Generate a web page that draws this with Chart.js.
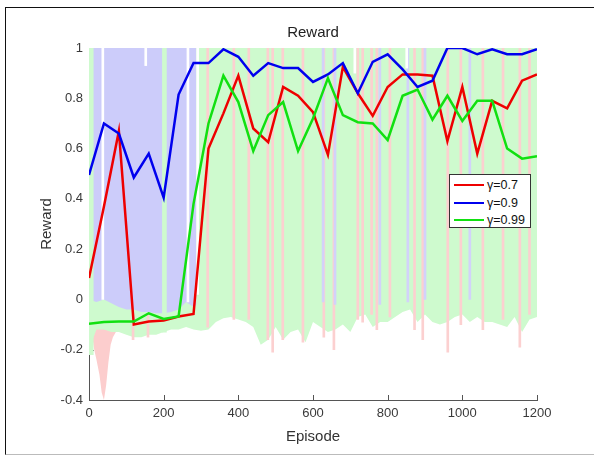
<!DOCTYPE html>
<html>
<head>
<meta charset="utf-8">
<script src="https://cdn.jsdelivr.net/npm/chart.js@4"></script>
<style>
  html, body { margin: 0; padding: 0; background: #fff; }
  #wrap { position: relative; width: 594px; height: 456px; overflow: hidden; font-family: 'Liberation Sans', Arial, Helvetica, sans-serif; }
  #frame { position: absolute; left: 5px; top: 7px; width: 589px; height: 446px; border-left: 1px solid #111; border-top: 1px solid #111; border-bottom: 1px solid #bbb; }
  #box { position: absolute; left: 0; top: 0; width: 594px; height: 456px; }
  #legend { position: absolute; left: 449px; top: 174px; width: 80px; height: 52px; background: #fff; border: 1px solid #333; }
  .row { position: absolute; left: 0; height: 16px; width: 80px; }
  .row i { position: absolute; left: 4px; top: 7px; width: 30px; height: 0; border-top: 2.5px solid; }
  .row span { position: absolute; left: 37px; top: 0; font-size: 12.5px; line-height: 16px; color: #111; white-space: nowrap; }
</style>
</head>
<body>
<div id="wrap">
  <div id="frame"></div>
  <div id="box"><canvas id="chart"></canvas></div>
  <div id="legend"></div>
</div>
<script>
// smoothed reward, one point every 40 episodes
const episodes = [0, 40, 80, 120, 160, 200, 240, 280, 320, 360, 400, 440, 480, 520, 560, 600,
  640, 680, 720, 760, 800, 840, 880, 920, 960, 1000, 1040, 1080, 1120, 1160, 1200];
const reward07 = [0.085, 0.37, 0.67, -0.10, -0.088, -0.084, -0.068, -0.058, 0.60, 0.74, 0.89, 0.68, 0.625, 0.845, 0.81, 0.745,
  0.575, 0.925, 0.82, 0.73, 0.845, 0.895, 0.895, 0.89, 0.63, 0.845, 0.58, 0.79, 0.76, 0.87, 0.895];
const reward09 = [0.495, 0.70, 0.66, 0.485, 0.58, 0.405, 0.815, 0.94, 0.94, 0.995, 0.965, 0.89, 0.94, 0.92, 0.92, 0.865,
  0.895, 0.94, 0.82, 0.945, 0.975, 0.915, 0.845, 0.87, 1.0, 1.0, 0.975, 0.995, 0.975, 0.975, 0.995];
const reward099 = [-0.097, -0.09, -0.088, -0.088, -0.055, -0.078, -0.068, 0.38, 0.70, 0.89, 0.785, 0.59, 0.733, 0.785, 0.59, 0.72,
  0.88, 0.733, 0.705, 0.70, 0.634, 0.81, 0.835, 0.715, 0.81, 0.71, 0.79, 0.79, 0.60, 0.56, 0.57];

const seriesLabels = ['\u03b3=0.7', '\u03b3=0.9', '\u03b3=0.99'];
const seriesColors = ['#ee0000', '#0000ee', '#11e011'];

// raw traces, shown as light bands: lower edge of each band (top is 1)
const greenRawEp = [0, 20, 40, 60, 80, 100, 120, 140, 160, 180, 200, 220, 240, 260, 280, 300,
  320, 340, 360, 380, 400, 420, 440, 460, 480, 500, 520, 540, 560, 580, 600, 620,
  640, 660, 680, 700, 720, 740, 760, 780, 800, 820, 840, 860, 880, 900, 920, 940,
  960, 980, 1000, 1020, 1040, 1060, 1080, 1100, 1120, 1140, 1160, 1180, 1200];
const greenRawLow = [-0.20, -0.12, -0.12, -0.13, -0.13, -0.14, -0.15, -0.15, -0.14, -0.14, -0.13, -0.12, -0.12, -0.11, -0.12, -0.125,
  -0.12, -0.09, -0.075, -0.07, -0.08, -0.09, -0.11, -0.18, -0.16, -0.11, -0.16, -0.13, -0.12, -0.17, -0.09, -0.11,
  -0.13, -0.12, -0.10, -0.13, -0.07, -0.06, -0.11, -0.09, -0.09, -0.07, -0.05, -0.04, -0.09, -0.06, -0.09, -0.10,
  -0.09, -0.07, -0.06, -0.09, -0.07, -0.09, -0.09, -0.10, -0.11, -0.07, -0.13, -0.08, -0.07];
const blueRawEp = [0, 20, 40, 60, 80, 100, 120, 140, 160, 180, 200, 220, 240, 260, 280, 288];
const blueRawLow = [0.0, -0.01, 0.0, -0.015, -0.03, -0.04, -0.04, -0.05, -0.05, -0.055, -0.055, -0.05, -0.04, -0.01, -0.03, -0.02];
const redRawEp = [8, 14, 20, 28, 34, 40, 46, 52, 58, 64, 72];
const redRawLow = [-0.14, -0.20, -0.24, -0.30, -0.37, -0.40, -0.34, -0.25, -0.18, -0.15, -0.13];

// single stripes of the raw traces: episode and lowest value
const redSpikeEp = [118, 158, 318, 388, 428, 479, 492, 519, 573, 629, 656, 720, 733, 757, 771, 806, 872, 894, 961, 996, 1055, 1109, 1154, 1180];
const redSpikeLow = [-0.16, -0.15, -0.11, -0.08, -0.08, -0.16, -0.21, -0.16, -0.17, -0.15, -0.20, -0.08, -0.09, -0.06, -0.12, -0.07, -0.12, -0.16, -0.21, -0.10, -0.12, -0.08, -0.19, -0.06];
const redSpikeTop = [-0.06, -0.06, 1, 1, 1, 1, 1, 1, 1, 1, 1, 1, 1, 1, 1, 1, 1, 1, 1, 1, 1, 1, 1, 1];
const blueSpikeEp = [627, 659, 779, 854, 900, 1020];
const blueSpikeLow = [-0.01, -0.02, -0.02, -0.01, 0.0, 0.0];
const greenSpikeEp = [6, 202];
const greenSpikeLow = [-0.22, -0.13];
const gapEp = [37, 152, 265, 291, 712, 851];
const gapLow = [0.0, 0.93, -0.01, 0.02, 0.9, 0.92];

const xTicks = [0, 200, 400, 600, 800, 1000, 1200];
const xTickLabels = ['0', '200', '400', '600', '800', '1000', '1200'];
const yTicks = [-0.4, -0.2, 0, 0.2, 0.4, 0.6, 0.8, 1];
const yTickLabels = ['-0.4', '-0.2', '0', '0.2', '0.4', '0.6', '0.8', '1'];

const axisColor = '#555';
const textColor = '#3a3a3a';
const fontFamily = "'Liberation Sans', Arial, Helvetica, sans-serif";

function pts(xs, ys) {
  return xs.map((x, i) => ({ x: x, y: ys[i] }));
}

function band(xs, lows, color, fillTo, order) {
  return {
    type: 'line', data: pts(xs, lows), borderWidth: 0, borderColor: color,
    backgroundColor: color, pointRadius: 0, tension: 0, fill: { value: fillTo }, order: order
  };
}
function stripeSet(xs, lows, tops, color, width, order) {
  return {
    type: 'bar', data: xs.map((x, i) => ({ x: x, y: [lows[i], tops ? tops[i] : 1] })),
    backgroundColor: color, borderWidth: 0, barThickness: width, grouped: false, order: order
  };
}
function curve(ys, color, order) {
  return {
    type: 'line', data: pts(episodes, ys), borderColor: color, borderWidth: 2.5,
    pointRadius: 0, tension: 0, fill: false, order: order
  };
}

// MATLAB style ticks pointing into the plot
const innerTicks = {
  id: 'innerTicks',
  beforeDatasetsDraw(chart) {
    const { ctx, scales: { x, y } } = chart;
    ctx.save();
    ctx.strokeStyle = axisColor;
    ctx.lineWidth = 1;
    ctx.beginPath();
    x.ticks.forEach(t => {
      const px = Math.round(x.getPixelForValue(t.value)) + 0.5;
      ctx.moveTo(px, y.bottom);
      ctx.lineTo(px, y.bottom - 5);
    });
    y.ticks.forEach(t => {
      const py = Math.round(y.getPixelForValue(t.value)) + 0.5;
      ctx.moveTo(x.left, py);
      ctx.lineTo(x.left + 5, py);
    });
    ctx.stroke();
    ctx.restore();
  }
};

new Chart(document.getElementById('chart'), {
  type: 'line',
  data: {
    datasets: [
      curve(reward099, seriesColors[2], 1),
      curve(reward09, seriesColors[1], 2),
      curve(reward07, seriesColors[0], 3),
      stripeSet(gapEp, gapLow, null, '#ffffff', 2, 5),
      stripeSet(greenSpikeEp, greenSpikeLow, null, 'rgb(206,250,206)', 4, 6),
      stripeSet(blueSpikeEp, blueSpikeLow, null, 'rgb(210,210,250)', 2, 7),
      stripeSet(redSpikeEp, redSpikeLow, redSpikeTop, 'rgb(252,208,208)', 2, 8),
      band(blueRawEp, blueRawLow, 'rgb(204,204,250)', 1, 9),
      band(greenRawEp, greenRawLow, 'rgb(206,250,206)', 1, 10),
      band(redRawEp, redRawLow, 'rgb(252,205,205)', -0.1, 11)
    ]
  },
  options: {
    responsive: true,
    maintainAspectRatio: false,
    animation: false,
    devicePixelRatio: 1,
    layout: { padding: { top: 0, right: 57, bottom: 0, left: 0 } },
    plugins: {
      legend: { display: false },
      tooltip: { enabled: false },
      title: {
        display: true, text: 'Reward', fullSize: false, color: '#222',
        font: { family: fontFamily, size: 15, weight: 'normal' },
        padding: { top: 24, bottom: 6 }
      }
    },
    scales: {
      x: {
        type: 'linear', min: 0, max: 1200, offset: false,
        afterBuildTicks: axis => { axis.ticks = xTicks.map(v => ({ value: v })); },
        afterFit: s => { s.height = 56; },
        grid: { display: false, drawTicks: false },
        border: { display: true, color: axisColor, width: 1 },
        ticks: { color: textColor, padding: 6, maxRotation: 0, font: { family: fontFamily, size: 13 },
          callback: (v, i) => xTickLabels[i] },
        title: { display: true, text: 'Episode', color: '#333', padding: { top: 0, bottom: 10 }, font: { family: fontFamily, size: 15 } }
      },
      y: {
        type: 'linear', min: -0.4, max: 1,
        afterBuildTicks: axis => { axis.ticks = yTicks.map(v => ({ value: v })); },
        afterFit: s => { s.width = 89; },
        grid: { display: false, drawTicks: false },
        border: { display: true, color: axisColor, width: 1 },
        ticks: { color: textColor, padding: 6, font: { family: fontFamily, size: 13 },
          callback: (v, i) => yTickLabels[i] },
        title: { display: true, text: 'Reward', color: '#333', padding: { top: 38, bottom: 0 }, font: { family: fontFamily, size: 15 } }
      }
    }
  },
  plugins: [innerTicks]
});

// legend box inside the plot, built from the series names and colours
const legend = document.getElementById('legend');
seriesLabels.forEach((label, i) => {
  const row = document.createElement('div');
  row.className = 'row';
  row.style.top = (2 + i * 17.5) + 'px';
  const line = document.createElement('i');
  line.style.borderTopColor = seriesColors[i];
  const text = document.createElement('span');
  text.textContent = label;
  row.appendChild(line);
  row.appendChild(text);
  legend.appendChild(row);
});
</script>
</body>
</html>
